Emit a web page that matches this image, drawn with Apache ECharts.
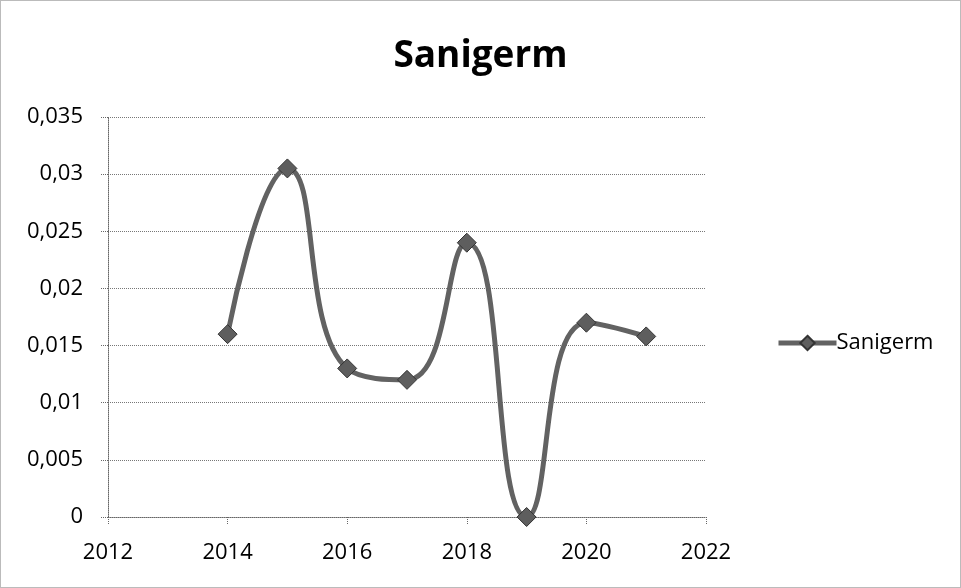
<!DOCTYPE html>
<html>
<head>
<meta charset="utf-8">
<style>
  html, body { margin: 0; padding: 0; background: #fff; }
  #chart { width: 961px; height: 588px; box-sizing: border-box; border: 1px solid #bbb; }
</style>
<script src="https://cdn.jsdelivr.net/npm/echarts@6/dist/echarts.min.js"></script>
</head>
<body>
<div id="chart"></div>
<script>
// chart data
const years = [2014, 2015, 2016, 2017, 2018, 2019, 2020, 2021]
const values = [0.016, 0.0305, 0.013, 0.012, 0.024, 0.0, 0.017, 0.0158]
const seriesName = 'Sanigerm'

const chart = echarts.init(document.getElementById('chart'))
const font = 'Open Sans, Lato, sans-serif'

const option = {
  animation: false,
  backgroundColor: '#fff',
  title: {
    text: 'Sanigerm',
    left: 'center',
    top: 32,
    textStyle: { fontFamily: font, fontSize: 37, fontWeight: 'bold', color: '#000' }
  },
  legend: {
    data: [seriesName],
    orient: 'vertical',
    left: 770,
    top: 326,
    itemWidth: 58,
    itemHeight: 18,
    itemGap: 0,
    lineStyle: { width: 5, color: '#626262' },
    textStyle: { fontFamily: font, fontSize: 22, color: '#000', padding: [0, 0, 0, -5] }
  },
  grid: { left: 107, right: 254, top: 116, bottom: 70 },
  xAxis: {
    type: 'value',
    min: 2012,
    max: 2022,
    interval: 2,
    axisLine: { lineStyle: { color: '#666', type: 'dotted', width: 1 } },
    axisTick: { show: true, length: 8, lineStyle: { color: '#666', type: 'dotted' } },
    splitLine: { show: false },
    axisLabel: {
      fontFamily: font, fontSize: 22, color: '#000', margin: 25,
      formatter: v => String(v)
    }
  },
  yAxis: {
    type: 'value',
    min: 0,
    max: 0.035,
    interval: 0.005,
    axisLine: { show: true, lineStyle: { color: '#666', type: 'dotted', width: 1 } },
    axisTick: { show: true, length: 8, lineStyle: { color: '#666', type: 'dotted' } },
    splitLine: { lineStyle: { color: '#777', type: 'dotted', width: 1 } },
    axisLabel: {
      fontFamily: font, fontSize: 22, color: '#000', margin: 25,
      formatter: v => String(+v.toFixed(3)).replace('.', ',')
    }
  },
  series: [
    {
      name: seriesName,
      type: 'line',
      smooth: 0.5,
      data: years.map((y, i) => [y, values[i]]),
      symbol: 'diamond',
      symbolSize: 19,
      lineStyle: { color: '#626262', width: 5 },
      itemStyle: { color: '#5e5e5e', borderColor: '#333', borderWidth: 1 }
    }
  ]
}

chart.setOption(option)
</script>
</body>
</html>
